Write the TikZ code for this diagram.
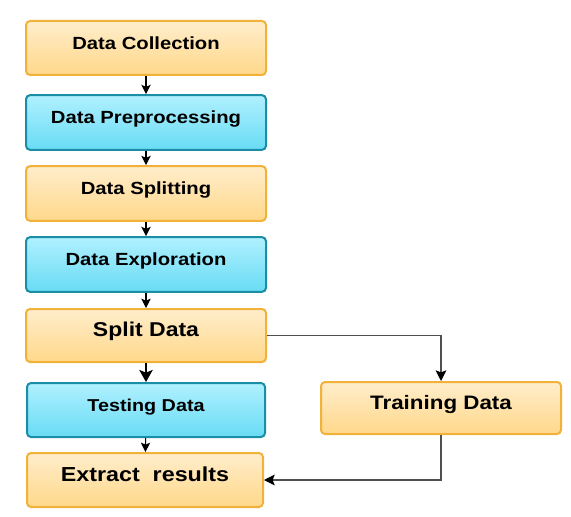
\documentclass[tikz,border=0pt]{standalone}
\usepackage{fontspec}
\setmainfont[FakeStretch=1.15]{Liberation Sans}
\usetikzlibrary{arrows.meta}

\definecolor{orangeline}{HTML}{F2B23A}
\definecolor{orangetop}{HTML}{FFEDCB}
\definecolor{orangebot}{HTML}{FFD88A}
\definecolor{blueline}{HTML}{1B8DA6}
\definecolor{bluetop}{HTML}{B0F0FF}
\definecolor{bluebot}{HTML}{68DCF4}
\definecolor{linkgray}{HTML}{505050}

\tikzset{
  stagebox/.style={draw, line width=1.5pt, rounded corners=3pt,
    minimum width=180pt, minimum height=40.5pt, inner sep=0pt,
    text height=0.72em, text depth=0.5em, font=\bfseries},
  orangebox/.style={stagebox, draw=orangeline, top color=orangetop, bottom color=orangebot},
  bluebox/.style={stagebox, draw=blueline, top color=bluetop, bottom color=bluebot},
  smalltext/.style={font=\bfseries\fontsize{13.2}{15}\selectfont},
  bigtext/.style={font=\bfseries\fontsize{15}{17}\selectfont},
  flow/.style={-{Stealth[length=7pt,width=7pt,inset=1.5pt]}, line width=0.8pt, black},
  boldflow/.style={-{Stealth[length=9pt,width=10pt,inset=2pt]}, line width=1.6pt, black},
  sidelink/.style={-{Stealth[length=8pt,width=8pt,inset=1.5pt,color=black]}, line width=0.9pt, linkgray}
}

\begin{document}
\begin{tikzpicture}[x=0.75pt, y=-0.75pt]
  \useasboundingbox (0,0) rectangle (571,517);

  % left column
  \node[orangebox, smalltext] (collect) at (146,48) {Data Collection};
  \node[bluebox, smalltext, minimum height=41pt] (prep) at (146,122.5) {Data Preprocessing};
  \node[orangebox, smalltext, minimum height=41pt] (splitting) at (146,193.5) {Data Splitting};
  \node[bluebox, smalltext, minimum height=41pt] (explore) at (146,264.5) {Data Exploration};
  \node[orangebox, bigtext, minimum height=39.75pt] (splitdata) at (146,335.5) {Split Data};
  \node[bluebox, font=\bfseries\fontsize{12.9}{15}\selectfont, minimum width=178.5pt] (testing) at (146,410) {Testing Data};
  \node[orangebox, font=\bfseries\fontsize{15.2}{17}\selectfont, minimum width=177pt] (extract) at (145,480) {Extract\ \ results};

  % right branch
  \node[orangebox, font=\bfseries\fontsize{14.6}{17}\selectfont, minimum height=39pt] (training) at (441,408) {Training Data};

  \draw[flow] (collect) -- (prep);
  \draw[flow] (prep) -- (splitting);
  \draw[flow] (splitting) -- (explore);
  \draw[flow] (explore) -- (splitdata);
  \draw[boldflow] (splitdata) -- (testing);
  \draw[flow] (testing) -- (extract);
  \draw[sidelink] (splitdata.east) -| (training.north);
  \draw[sidelink] (training.south) |- (extract.east);
\end{tikzpicture}
\end{document}
